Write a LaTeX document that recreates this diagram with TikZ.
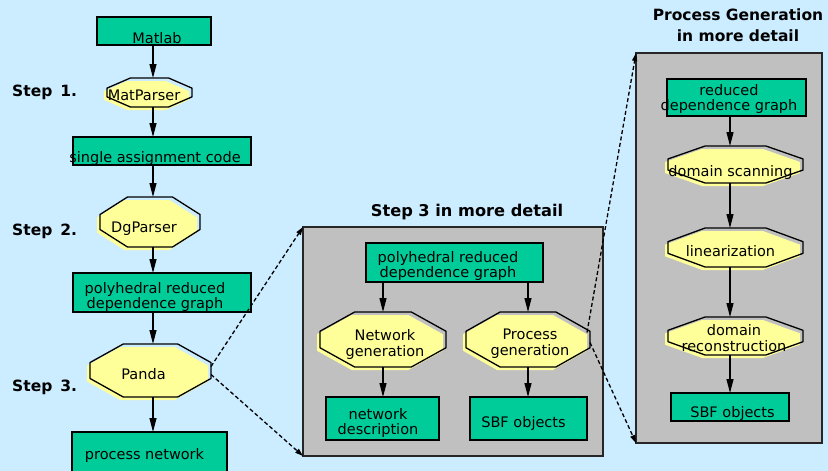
\documentclass[tikz,border=0pt]{standalone}
\usepackage{fontspec}
\setmainfont{DejaVu Sans}
\usetikzlibrary{arrows.meta,calc}
\pgfdeclarelayer{bg}\pgfdeclarelayer{mid}\pgfsetlayers{bg,mid,main}
\definecolor{bgblue}{HTML}{CCECFF}
\definecolor{boxgreen}{HTML}{00CC99}
\definecolor{elyellow}{HTML}{FFFF99}
\definecolor{panelgray}{HTML}{C0C0C0}
% text placed inside a node: #1 = x offset, #2 = raise, #3 = lines
\newcommand\tx[3]{\raisebox{#2}[0pt][0pt]{\makebox[0pt]{\kern#1\kern#1\begin{tabular}{@{}c@{}}#3\end{tabular}}}}
\newcommand\octpath[1]{($(#1.north)!0.45!(#1.north east)$) -- ($(#1.east)!0.3!(#1.north east)$)
      -- ($(#1.east)!0.3!(#1.south east)$) -- ($(#1.south)!0.45!(#1.south east)$)
      -- ($(#1.south)!0.45!(#1.south west)$) -- ($(#1.west)!0.3!(#1.south west)$)
      -- ($(#1.west)!0.3!(#1.north west)$) -- ($(#1.north)!0.45!(#1.north west)$) -- cycle}
\newcommand\octo[1]{%
  \begin{pgfonlayer}{mid}
    \fill[elyellow, transform canvas={xshift=-3pt, yshift=-3pt}] \octpath{#1};
    \draw[ovline] \octpath{#1};
  \end{pgfonlayer}}
\tikzset{
  box/.style={draw=black, line width=1.2pt, fill=boxgreen, rectangle, inner sep=0pt, outer sep=0pt},
  oval/.style={rectangle, draw=none, inner sep=0pt, outer sep=0pt},
  ovline/.style={draw=black, line width=1.3pt, line join=round},
  panel/.style={draw=black!85, line width=1.3pt, fill=panelgray, inner sep=0pt, outer sep=0pt},
  ttl/.style={font=\bfseries\fontsize{15.5}{18}\selectfont, inner sep=0pt, anchor=base},
  arr/.style={line width=1.2pt, -{Triangle[length=14pt,width=7pt]}},
  darr/.style={line width=1.3pt, dash pattern=on 4pt off 2.5pt, -{Triangle[length=8pt,width=5pt]}},
}
\begin{document}
\begin{tikzpicture}[x=1pt,y=-1pt, every node/.append style={font=\fontsize{14.5}{15}\selectfont}]
\useasboundingbox (0,0) rectangle (828,471);
\begin{pgfonlayer}{bg}
  \fill[bgblue] (0,0) rectangle (828,471);
  \node[panel, minimum width=300, minimum height=229] (midpanel) at (453,341.5) {};
  \node[panel, minimum width=186, minimum height=390] (rightpanel) at (729,248) {};
\end{pgfonlayer}
\coordinate (colL) at (153,0);
\coordinate (colR) at (730,0);
% left column
\node[box, minimum width=114, minimum height=28] (matlab) at (154,31) {\tx{3pt}{-13pt}{Matlab}};
\node[oval, minimum width=85, minimum height=29] (matparser) at (149.5,92.5) {\tx{-5.5pt}{-9pt}{MatParser}};
\octo{matparser}
\node[box, minimum width=178, minimum height=28] (sac) at (162,151) {\tx{-7pt}{-12pt}{single assignment code}};
\node[oval, minimum width=100, minimum height=50] (dgparser) at (150,222) {\tx{-6pt}{-11pt}{DgParser}};
\octo{dgparser}
\node[box, minimum width=178, minimum height=39] (prdg) at (162,292.5) {\tx{-7pt}{-9pt}{polyhedral reduced\\dependence graph}};
\node[oval, minimum width=121, minimum height=53] (panda) at (150.5,370.5) {\tx{-7pt}{-9pt}{Panda}};
\octo{panda}
\node[box, minimum width=155, minimum height=40] (procnet) at (149.5,452) {\tx{-5pt}{-8pt}{process network}};
\node[ttl, anchor=base west] (step1) at (12,96.7) {Step\hspace{8pt}1.};
\node[ttl, anchor=base west] (step2) at (12,235.7) {Step\hspace{8pt}2.};
\node[ttl, anchor=base west] (step3) at (12,391) {Step\hspace{8pt}3.};
\draw[arr] (matlab.south -| colL) -- (matparser.north -| colL);
\draw[arr] (matparser.south -| colL) -- (sac.north -| colL);
\draw[arr] (sac.south -| colL) -- (dgparser.north -| colL);
\draw[arr] (dgparser.south -| colL) -- (prdg.north -| colL);
\draw[arr] (prdg.south -| colL) -- (panda.north -| colL);
\draw[arr] (panda.south -| colL) -- (procnet.north -| colL);
% middle panel
\node[ttl, font=\bfseries\fontsize{16.2}{18}\selectfont] (midtitle) at (467,216.7) {Step 3 in more detail};
\node[box, minimum width=177, minimum height=39] (rdg2) at (454.5,262.5) {\tx{-6.5pt}{-8pt}{polyhedral reduced\\dependence graph}};
\node[oval, minimum width=126, minimum height=55] (netgen) at (383,339.5) {\tx{2pt}{-9.5pt}{Network\\generation}};
\octo{netgen}
\node[oval, minimum width=124, minimum height=55] (procgen) at (528,339.5) {\tx{2pt}{-8.5pt}{Process\\generation}};
\octo{procgen}
\node[box, minimum width=113, minimum height=43] (netdesc) at (382.5,418.5) {\tx{-4.5pt}{-9pt}{network\\description}};
\node[box, minimum width=117, minimum height=43] (sbf1) at (528.5,418.5) {\tx{-5pt}{-9.5pt}{SBF objects}};
\draw[arr] (rdg2.south -| netgen.north) -- (netgen.north);
\draw[arr] (rdg2.south -| procgen.north) -- (procgen.north);
\draw[arr] (netgen.south) -- (netdesc.north -| netgen.south);
\draw[arr] (procgen.south) -- (sbf1.north -| procgen.south);
% right panel
\node[ttl] (pgtitle1) at (738,20) {Process Generation};
\node[ttl] (pgtitle2) at (738,41.7) {in more detail};
\node[box, minimum width=139, minimum height=37] (rdg3) at (736.5,97.5) {\tx{-7.5pt}{-6pt}{reduced\\dependence graph}};
\node[oval, minimum width=135, minimum height=37] (dscan) at (735.5,164.5) {\tx{-5pt}{-12pt}{domain scanning}};
\octo{dscan}
\node[oval, minimum width=135, minimum height=39] (lin) at (735.5,247.5) {\tx{-5pt}{-9.5pt}{linearization}};
\octo{lin}
\node[oval, minimum width=135, minimum height=38] (drec) at (735.5,336) {\tx{-1.5pt}{-8pt}{domain\\reconstruction}};
\octo{drec}
\node[box, minimum width=118, minimum height=28] (sbf2) at (730,407) {\tx{2.5pt}{-10.5pt}{SBF objects}};
\draw[arr] (rdg3.south -| colR) -- (dscan.north -| colR);
\draw[arr] (dscan.south -| colR) -- (lin.north -| colR);
\draw[arr] (lin.south -| colR) -- (drec.north -| colR);
\draw[arr] (drec.south -| colR) -- (sbf2.north -| colR);
% zoom connectors
\draw[darr] ($(panda.east)+(0,-4)$) -- (midpanel.north west);
\draw[darr] ($(panda.east)+(0,4)$) -- (midpanel.south west);
\draw[darr] ($(procgen.east)+(-3,-7)$) -- (rightpanel.north west);
\draw[darr] ($(procgen.east)+(0,3)$) -- (rightpanel.south west);
\end{tikzpicture}
\end{document}
